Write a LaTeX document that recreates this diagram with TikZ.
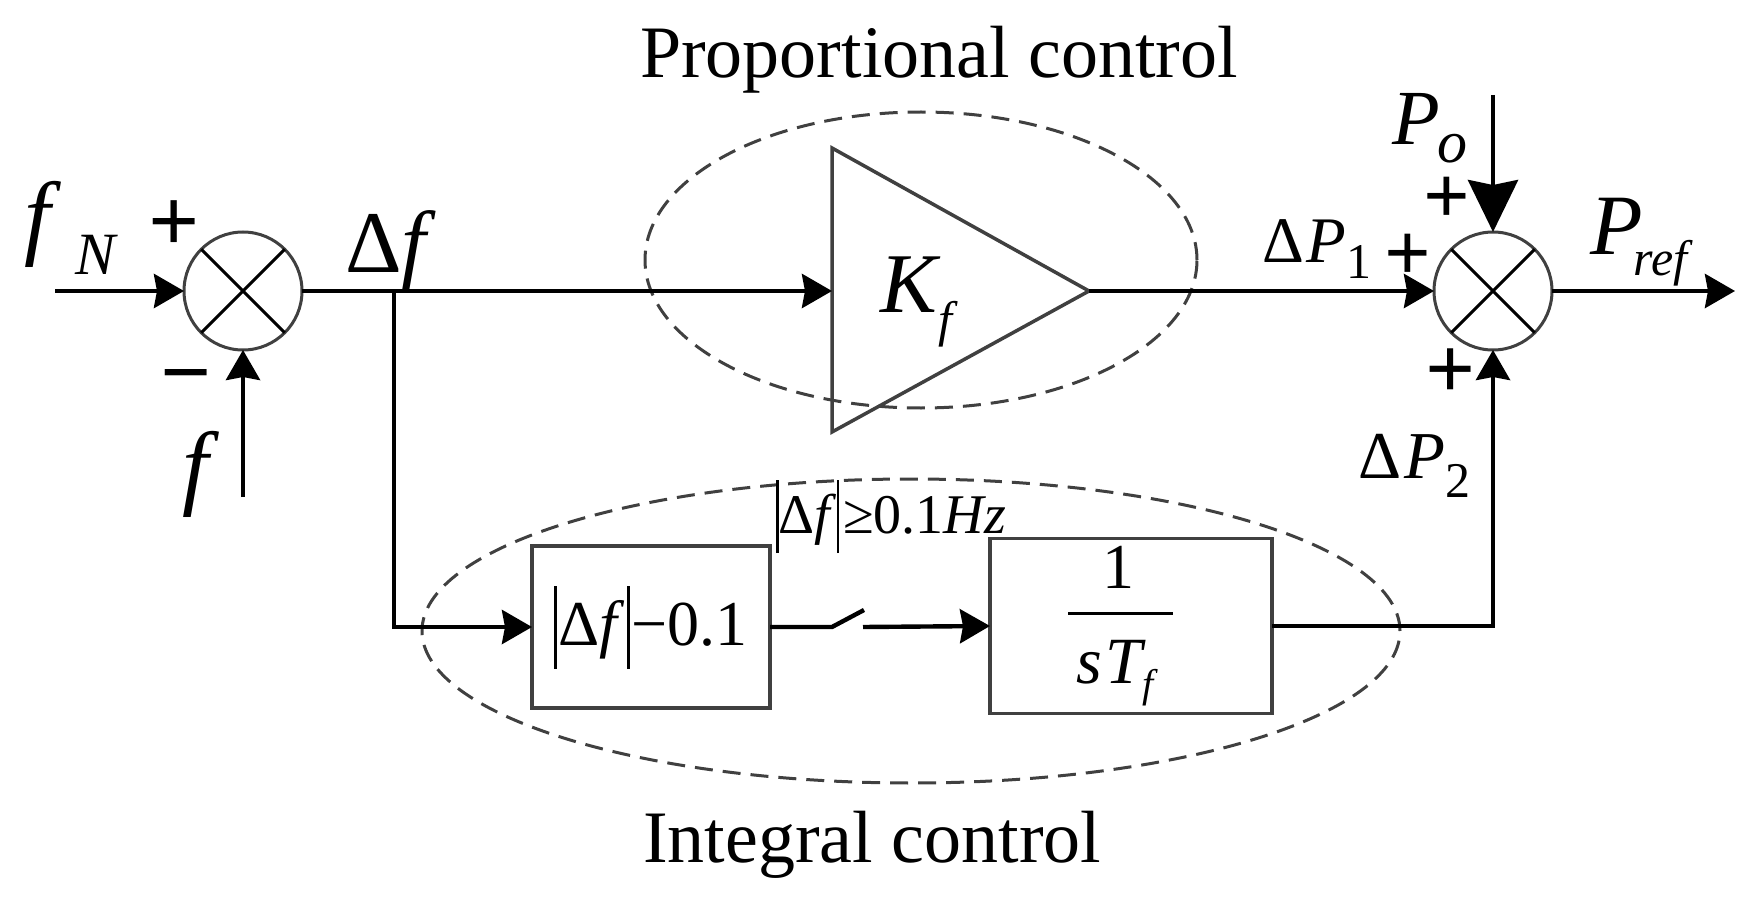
\documentclass[tikz,border=0pt]{standalone}
\usepackage{fontspec}
\setmainfont{Liberation Serif}
\usetikzlibrary{arrows.meta}
\definecolor{gray3}{HTML}{404040}
\newcommand\fs[1]{\fontsize{#1}{#1}\selectfont}
\newcommand\absbar[2]{\rule[-#1]{1.3pt}{#2}}
\begin{document}
\begin{tikzpicture}[x=0.5pt,y=-0.5pt,
  conn/.style={line width=2.2pt},
  arr/.style={conn,-{Stealth[length=15pt,width=17pt,inset=1.5pt]}},
  bigarr/.style={conn,-{Stealth[length=26pt,width=25pt,inset=2.5pt]}},
  sumnode/.style={circle,draw=gray3,line width=1.5pt,minimum size=59pt,inner sep=0pt,outer sep=0pt},
  blk/.style={rectangle,draw=gray3,line width=1.75pt,inner sep=0pt,outer sep=0pt},
  grp/.style={draw=gray3,line width=1.5pt,dash pattern=on 9pt off 5pt},
  lbl/.style={inner sep=0pt,outer sep=0pt},
  sign/.style={lbl,anchor=base,text height=23pt,text depth=0pt,font=\fs{45pt}\bfseries},
]
\useasboundingbox (0,0) rectangle (1753,899);

% group ellipses
\draw[grp] (921,260) ellipse [x radius=138pt, y radius=74pt];
\draw[grp] (911,631) ellipse [x radius=244.5pt, y radius=76pt];

% summing junctions
\node[sumnode] (s1) at (243,291) {};
\node[sumnode] (s2) at (1493,291) {};
\draw[line width=1.5pt] (s1.north east) -- (s1.south west) (s1.north west) -- (s1.south east);
\draw[line width=1.5pt] (s2.north east) -- (s2.south west) (s2.north west) -- (s2.south east);

% gain triangle
\coordinate (kin) at (832,291);
\coordinate (kout) at (1089,291);
\draw[draw=gray3,line width=1.75pt,line join=miter] (832,148) -- (kout) -- (832,432) -- cycle;
\node[lbl,anchor=base west] (K) at (880,313) {\fs{42.5pt}\itshape K\hspace{1pt}\raisebox{-12pt}{\fs{25pt}f}};

% blocks
\node[blk,minimum width=119pt,minimum height=81pt] (b1) at (651,627)
  {\fs{32pt}\absbar{11.5pt}{41.5pt}\hspace{1pt}Δ\textit{f}\hspace{1pt}\absbar{11.5pt}{41.5pt}\hspace{1pt}−0.1};
\node[blk,minimum width=141pt,minimum height=87.5pt] (b2) at (1131,626) {};
\node[lbl,anchor=base] (one) at (1118.5,588) {\fs{32pt}1};
\coordinate (fracL) at (1068,613);
\coordinate (fracR) at (1173,613);
\draw[line width=1.5pt] (fracL) -- (fracR);
\node[lbl,anchor=base west] (sT) at (1076,683) {\fs{33pt}\itshape s\hspace{2pt}T\raisebox{-7pt}{\fs{20pt}f}};

% connectors
\coordinate (fNin) at (55,291);
\coordinate (fin) at (243,497);
\coordinate (j1) at (394,291);
\coordinate (sw1) at (832,627);
\coordinate (sw2) at (864,610);
\coordinate (sw3) at (863,627);
\coordinate (Poin) at (1493,95);
\coordinate (out) at (1735,291);
\draw[arr] (fNin) -- (s1.west);
\draw[arr] (fin) -- (s1.south);
\draw[arr] (s1.east) -- (kin);
\draw[arr] (j1) |- (b1.west);
\draw[arr] (kout) -- (s2.west);
\draw[conn] (b1.east) -- (sw1) -- (sw2);
\draw[arr] (sw3) -- (b2.west);
\draw[arr] (b2.east) -| (s2.south);
\draw[bigarr] (Poin) -- (s2.north);
\draw[arr] (s2.east) -- (out);

% signal labels
\node[lbl,anchor=base west] (fN) at (25,248) {\fs{47pt}\itshape f\hspace{12pt}\raisebox{-13.5pt}{\fs{30pt}N}};
\node[lbl,anchor=base west] (df) at (345,272) {\fs{44pt}Δ\textit{f}};
\node[lbl,anchor=base] (f) at (196,497) {\fs{47pt}\itshape f};
\node[lbl,anchor=base west] (dP1) at (1262,263) {\fs{32.5pt}Δ\hspace{1.5pt}\textit{P}\raisebox{-8pt}{\fs{25pt}1}};
\node[lbl,anchor=base west] (dP2) at (1358,478) {\fs{33.5pt}Δ\hspace{1.5pt}\textit{P}\raisebox{-9.5pt}{\fs{25pt}2}};
\node[lbl,anchor=base west] (Po) at (1392,145) {\fs{39pt}\itshape P\hspace{-1pt}\raisebox{-9pt}{\fs{30pt}o}};
\node[lbl,anchor=base west] (Pref) at (1590,255) {\fs{43pt}\itshape P\hspace{-4.5pt}\raisebox{-10.5pt}{\fs{25pt}ref}};
\node[lbl,anchor=base west] (cond) at (776,533)
  {\fs{28pt}\absbar{10pt}{36.5pt}Δ\textit{f}\absbar{10pt}{36.5pt}\hspace{2pt}≥0.1\textit{Hz}};

% signs
\node[sign] (p1) at (174,251) {+};
\node[sign] (m1) at (186,402) {−};
\node[sign,font=\fs{41pt}\bfseries] (p2) at (1447,224) {+};
\node[sign,font=\fs{41pt}\bfseries] (p3) at (1408,280) {+};
\node[sign,font=\fs{44pt}\bfseries] (p4) at (1451,398) {+};

% titles
\node[lbl,anchor=base west] (tp) at (640,78) {\fs{37pt}Proportional control};
\node[lbl,anchor=base west] (ti) at (643,862) {\fs{37pt}Integral control};
\end{tikzpicture}
\end{document}
